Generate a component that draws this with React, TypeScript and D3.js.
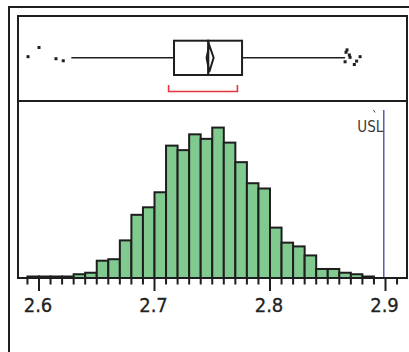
import React, { useRef, useEffect } from 'react';
import * as d3 from 'd3';

// histogram bins (left edge, width 0.01) and counts
const binStarts = [2.59, 2.6, 2.61, 2.62, 2.63, 2.64, 2.65, 2.66, 2.67, 2.68, 2.69, 2.7, 2.71, 2.72, 2.73,
  2.74, 2.75, 2.76, 2.77, 2.78, 2.79, 2.8, 2.81, 2.82, 2.83, 2.84, 2.85, 2.86, 2.87, 2.88];
const binCounts = [1, 1, 1, 1, 2.5, 3.5, 11.5, 12.5, 25, 42, 47, 57, 88, 85, 95.5,
  92.5, 100, 90, 77, 63, 59.5, 33.5, 23.5, 21, 15, 6, 6, 3.5, 2.5, 1];
const binWidth = 0.01;

// box plot summary
const q1 = 2.7169;
const median = 2.7465;
const q3 = 2.7758;
const whiskerLo = 2.628;
const whiskerHi = 2.865;
const meanVal = 2.7474;
const meanCI = [2.7451, 2.7512];
const shortestHalf = [2.7122, 2.7718];
const outliers = [2.5905, 2.6, 2.6147, 2.621, 2.8667, 2.8658, 2.865, 2.8693, 2.873, 2.875, 2.878, 2.8687];
const jitter = [-0.06, -0.6, 0.06, 0.18, -0.46, -0.32, 0.24, -0.02, 0.4, 0.2, -0.06, -0.16];

const usl = 2.8985;
const xTicks = [2.6, 2.7, 2.8, 2.9];

const App = () => {
  const svgRef = useRef(null);

  useEffect(() => {
    const svg = d3.select(svgRef.current);
    svg.selectAll('*').remove();

    const width = 409;
    const height = 352;
    const ink = '#1e1e1e';
    const font = '"Liberation Sans Narrow", "DejaVu Sans Condensed", "Roboto", sans-serif';
    const frameL = 18, frameR = 407, frameT = 16, divY = 101, base = 278;

    const x = d3.scaleLinear().domain([2.6, 2.9]).range([39, 385.5]);
    const y = d3.scaleLinear().domain([0, 117]).range([base, divY + 1]);

    svg.attr('width', width).attr('height', height);

    // outer frame (left + top)
    svg.append('path')
      .attr('d', `M9,${height} V7 H${width}`)
      .attr('fill', 'none').attr('stroke', ink).attr('stroke-width', 2);

    // histogram bars
    svg.append('g').selectAll('rect')
      .data(binStarts)
      .join('rect')
      .attr('x', d => x(d))
      .attr('y', (d, i) => y(binCounts[i]))
      .attr('width', d => x(d + binWidth) - x(d))
      .attr('height', (d, i) => base - y(binCounts[i]))
      .attr('fill', '#80c98f')
      .attr('stroke', ink)
      .attr('stroke-width', 2);

    // USL line + label
    svg.append('line')
      .attr('x1', x(usl)).attr('x2', x(usl))
      .attr('y1', 110).attr('y2', base)
      .attr('stroke', '#5a5ab4').attr('stroke-width', 1.5);
    svg.append('text')
      .attr('x', x(usl) - 0.5).attr('y', 132)
      .attr('text-anchor', 'end')
      .attr('font-family', font)
      .attr('font-size', 15)
      .attr('fill', '#3a3a3a')
      .text('USL');
    svg.append('line')
      .attr('x1', 373.5).attr('y1', 110).attr('x2', 375).attr('y2', 112.5)
      .attr('stroke', '#444').attr('stroke-width', 1);

    // inner frame
    svg.append('rect')
      .attr('x', frameL).attr('y', frameT)
      .attr('width', frameR - frameL).attr('height', base - frameT)
      .attr('fill', 'none').attr('stroke', ink).attr('stroke-width', 2);
    svg.append('line')
      .attr('x1', frameL).attr('x2', frameR).attr('y1', divY).attr('y2', divY)
      .attr('stroke', ink).attr('stroke-width', 2);

    // axis
    const minor = d3.range(259, 292).map(v => v / 100);
    svg.append('g').selectAll('line')
      .data(minor)
      .join('line')
      .attr('x1', d => x(d)).attr('x2', d => x(d))
      .attr('y1', base)
      .attr('y2', d => (xTicks.some(t => Math.abs(t - d) < 1e-6) ? 291 : 284.5))
      .attr('stroke', ink).attr('stroke-width', 2);
    svg.append('g').selectAll('text')
      .data(xTicks)
      .join('text')
      .attr('x', d => x(d) - 1)
      .attr('y', 312)
      .attr('text-anchor', 'middle')
      .attr('font-family', font)
      .attr('font-size', 20)
      .attr('fill', '#222')
      .attr('stroke', '#222')
      .attr('stroke-width', 0.3)
      .text(d => d.toFixed(1));

    // box plot
    const cy = 57.7, boxTop = 40.7, boxBot = 75;
    const jy = d3.scaleLinear().domain([-1, 1]).range([cy - 17, cy + 17]);
    const g = svg.append('g').attr('stroke', ink).attr('fill', 'none');
    g.append('line').attr('x1', x(whiskerLo)).attr('x2', x(q1)).attr('y1', cy).attr('y2', cy).attr('stroke-width', 1.6);
    g.append('line').attr('x1', x(q3)).attr('x2', x(whiskerHi)).attr('y1', cy).attr('y2', cy).attr('stroke-width', 1.6);
    g.append('rect')
      .attr('x', x(q1)).attr('y', boxTop)
      .attr('width', x(q3) - x(q1)).attr('height', boxBot - boxTop)
      .attr('stroke-width', 2);
    g.append('line').attr('x1', x(median)).attr('x2', x(median))
      .attr('y1', boxTop - 1).attr('y2', boxBot + 1).attr('stroke-width', 2.2);
    g.append('polygon')
      .attr('points', [
        [x(meanVal), 45], [x(meanCI[1]), cy], [x(meanVal), 72], [x(meanCI[0]), cy],
      ].map(p => p.join(',')).join(' '))
      .attr('stroke-width', 2);

    // outliers
    svg.append('g').selectAll('rect')
      .data(outliers)
      .join('rect')
      .attr('x', d => x(d) - 1.5)
      .attr('y', (d, i) => jy(jitter[i]) - 1.5)
      .attr('width', 3).attr('height', 3)
      .attr('fill', ink);

    // shortest half bracket
    const red = '#e8353b';
    svg.append('path')
      .attr('d', `M${x(shortestHalf[0])},85 V91.5 H${x(shortestHalf[1])} V85`)
      .attr('fill', 'none').attr('stroke', red).attr('stroke-width', 1.6);
  }, []);

  return <svg ref={svgRef} style={{ position: 'absolute', left: 0, top: 0 }}></svg>;
};

export default App;
